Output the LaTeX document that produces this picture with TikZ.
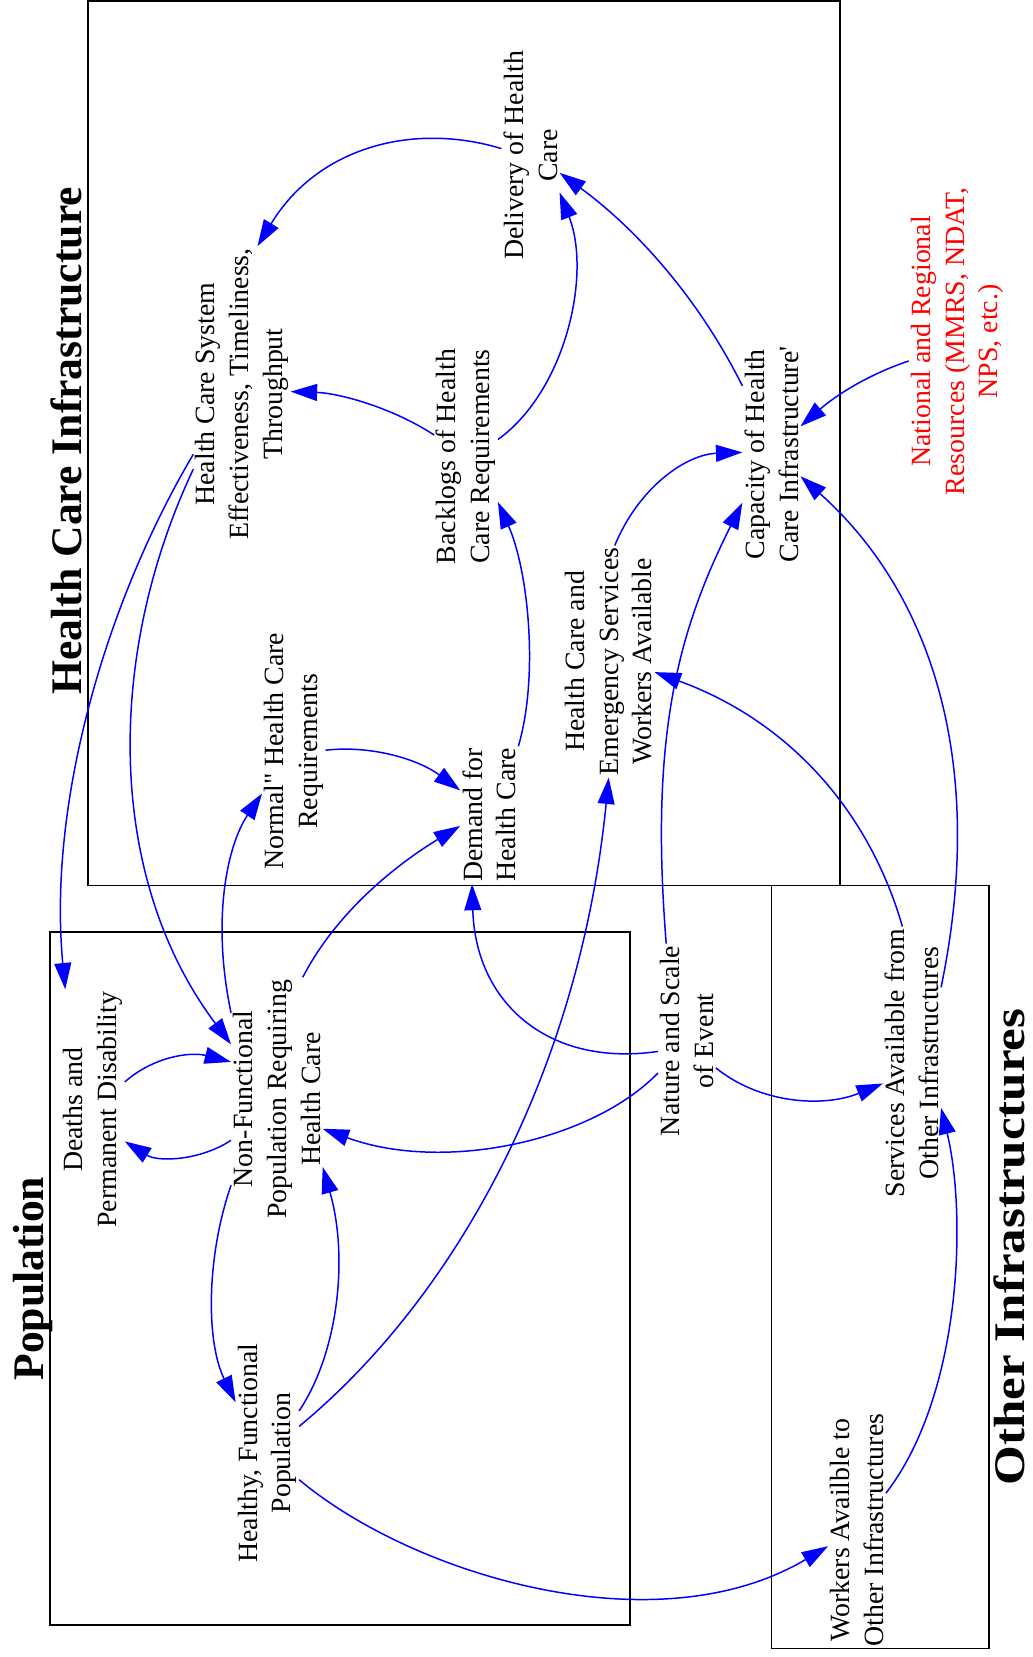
\documentclass[tikz,border=0pt]{standalone}
\usepackage{fontspec}
\setmainfont{Liberation Serif}
\usetikzlibrary{arrows.meta}
\tikzset{
	varbox/.style={align=center, inner sep=1pt, font=\fontsize{15}{18.2}\selectfont},
	boxtitle/.style={anchor=base, inner sep=0pt, font=\fontsize{23.5}{28}\selectfont\bfseries},
	frame/.style={draw=black, line width=1pt},
	link/.style={blue, line width=0.8pt, -{Triangle[length=0.5cm,width=0.32cm]}},
}

\begin{document}
\begin{tikzpicture}[x=0.02cm, y=-0.02cm, rotate=90, transform shape]
		%%%%% START %%%%%
		\useasboundingbox (0,0) rectangle (1568,977);
		
		\draw[frame] (730,83) rectangle (1567,795);
		\draw[frame] (30,47) rectangle (686,596);
		\draw[frame] (8,730) rectangle (730,936);
		
		\node[boxtitle] (hcititle) at (1151,77) {Health Care Infrastructure};
		\node[boxtitle] (poptitle) at (358,41) {Population};
		\node[boxtitle] (othtitle) at (388,969) {\scalebox{1.17}[1]{Other Infrastructures}};
		
		\node[varbox] (deliv) at (1421,502) {Delivery of Health\\Care};
		\node[varbox] (hcs) at (1195,229) {Health Care System\\Effectiveness, Timeliness,\\Throughput};
		\node[varbox] (backlog) at (1136,441) {Backlogs of Health\\Care Requirements};
		\node[varbox] (normal) at (857,278) {Normal\textquotedbl{} Health Care\\Requirements};
		\node[varbox] (demand) at (797,463) {Demand for\\Health Care};
		\node[varbox] (hcwork) at (942,576) {Health Care and\\Emergency Services\\Workers Available};
		\node[varbox] (capacity) at (1138,730) {Capacity of Health\\Care Infrastructure\textquotesingle};
		\node[varbox, red] (natl) at (1245,906) {National and Regional\\Resources (MMRS, NDAT,\\NPS, etc.)};
		
		\node[varbox] (nonfunc) at (528,262) {Non-Functional\\Population Requiring\\Health Care};
		\node[varbox] (deaths) at (518,88) {Deaths and\\Permanent Disability};
		\node[varbox] (healthy) at (193,253) {Healthy, Functional\\Population};
		\node[varbox] (nature) at (583,650) {Nature and Scale\\of Event};
		\node[varbox] (services) at (562,863) {Services Available from\\Other Infrastructures};
		\node[varbox] (wkother) at (120,811) {Workers Availble to\\Other Infrastructures};
		
		% health care side
		\draw[link] (deliv.77) .. controls (1453,390) and (1428,300) .. (hcs.-6);
		\draw[link] (backlog.56) .. controls (1183,370) and (1196,320) .. (hcs.-87);
		\draw[link] (backlog.-62) .. controls (1198,535) and (1308,560) .. (deliv.-142);
		\draw[link] (capacity.23) .. controls (1288,660) and (1353,600) .. (deliv.-121);
		\draw[link] (natl.112) .. controls (1213,820) and (1193,790) .. (capacity.-46);
		\draw[link] (services.-21) .. controls (848,935) and (1008,880) .. (capacity.-127);
		\draw[link] (hcwork.-3) .. controls (1108,605) and (1138,650) .. (capacity.86);
		\draw[link] (nature.12) .. controls (868,615) and (968,640) .. (capacity.149);
		\draw[link] (services.4) .. controls (808,820) and (888,740) .. (hcwork.-103);
		\draw[link] (normal.-88) .. controls (863,350) and (850,395) .. (demand.50);
		\draw[link] (demand.-23) .. controls (928,510) and (1028,500) .. (backlog.-145);
		
		% event and other infrastructures
		\draw[link] (nature.110) .. controls (558,520) and (618,450) .. (demand.166);
		\draw[link] (nature.138) .. controls (488,560) and (458,420) .. (nonfunc.-123);
		\draw[link] (nature.-133) .. controls (523,720) and (520,780) .. (services.125);
		\draw[link] (wkother.-38) .. controls (248,910) and (418,915) .. (services.-147);
		
		% population side
		\draw[link] (healthy.-130) .. controls (78,390) and (8,620) .. (wkother.119);
		\draw[link] (healthy.-50) .. controls (348,440) and (568,550) .. (hcwork.180);
		\draw[link] (healthy.-37) .. controls (288,320) and (378,330) .. (nonfunc.-146);
		\draw[link] (nonfunc.152) .. controls (378,195) and (298,195) .. (healthy.32);
		\draw[link] (nonfunc.132) .. controls (470,190) and (468,150) .. (deaths.-135);
		\draw[link] (deaths.-49) .. controls (568,145) and (573,180) .. (nonfunc.51);
		\draw[link] (hcs.141) .. controls (998,100) and (808,45) .. (deaths.13);
		\draw[link] (hcs.147) .. controls (948,100) and (738,100) .. (nonfunc.40);
		\draw[link] (nonfunc.28) .. controls (698,200) and (768,215) .. (normal.143);
		\draw[link] (nonfunc.-12) .. controls (708,320) and (753,380) .. (demand.111);
		
		%%%%% END %%%%%
	\end{tikzpicture}
\end{document}
